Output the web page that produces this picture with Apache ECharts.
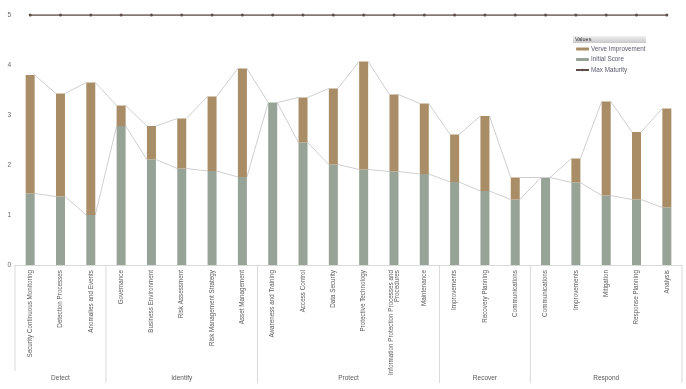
<!DOCTYPE html>
<html><head><meta charset="utf-8">
<script src="https://cdn.jsdelivr.net/npm/echarts@6/dist/echarts.min.js"></script>
<style>html,body{margin:0;padding:0;background:#fff}#c{width:686px;height:389px}</style>
</head><body><div id="c"></div>
<script>
const categories = ['Security Continuous Monitoring','Detection Processes','Anomalies and Events',
 'Governance','Business Environment','Risk Assessment','Risk Management Strategy','Asset Management',
 'Awareness and Training','Access Control','Data Security','Protective Technology','Information Protection Processes and Procedures','Maintenance',
 'Improvements','Recovery Planning','Communications',
 'Communications','Improvements','Mitigation','Response Planning','Analysis'];
const initialScore = [1.43,1.37,1.0, 2.78,2.11,1.93,1.88,1.76, 3.25,2.45,2.01,1.91,1.87,1.82, 1.66,1.48,1.31, 1.75,1.65,1.39,1.31,1.15];
const totalScore   = [3.80,3.43,3.65, 3.19,2.78,2.93,3.37,3.93, 3.25,3.35,3.53,4.07,3.41,3.23, 2.61,2.98,1.75, 1.75,2.13,3.27,2.66,3.13];
const maxMaturity  = [5,5,5,5,5,5,5,5,5,5,5,5,5,5,5,5,5,5,5,5,5,5];
const groupNames = ['Detect','Identify','Protect','Recover','Respond'];
const groupSizes = [3,5,6,3,5];

const improvement = totalScore.map((t,i)=>+(t-initialScore[i]).toFixed(2));
const BARW = 9;
const FF = 'Liberation Sans, Arial, sans-serif';
function seriesLineData(arr){ const d=[]; for(let i=0;i<arr.length-1;i++) d.push([i,arr[i],arr[i+1]]); return d; }
const groupData = []; let s=0;
groupSizes.forEach((n,k)=>{ groupData.push([s, s+n-1, k]); s+=n; });

const chart = echarts.init(document.getElementById('c'));
const connector = function(params, api){
  const i = api.value(0);
  const p1 = api.coord([i, api.value(1)]);
  const p2 = api.coord([i+1, api.value(2)]);
  return {type:'line', shape:{x1:p1[0]+BARW/2, y1:p1[1], x2:p2[0]-BARW/2, y2:p2[1]},
    style:{stroke:'#cfcfcf', lineWidth:1}};
};
chart.setOption({
  animation:false,
  textStyle:{fontFamily:FF},
  grid:{left:15,right:4,top:15,bottom:124},
  legend:{
    data:['Verve Improvement','Initial Score','Max Maturity'],
    orient:'vertical', left:575, top:46, padding:0, itemWidth:13, itemHeight:3, itemGap:4.5,
    textStyle:{fontSize:6.3, color:'#5a5b6e', padding:[0,0,0,-3]}
  },
  graphic:[
    {type:'rect', left:573, top:36, shape:{width:73, height:7},
     style:{fill:new echarts.graphic.LinearGradient(0,0,0,1,[{offset:0,color:'#f0f0f0'},{offset:1,color:'#c8c8c8'}])}},
    {type:'text', left:575, top:36.5, style:{text:'Values', fontSize:5.5, fill:'#333', fontFamily:FF}}
  ],
  xAxis:{type:'category', data:categories,
    axisLine:{lineStyle:{color:'#d9d9d9'}}, axisTick:{show:false},
    axisLabel:{rotate:90, fontSize:6.3, color:'#595959', interval:0, margin:5,
      formatter:v=> v==='Information Protection Processes and Procedures' ? 'Information Protection Processes and\nProcedures' : v}},
  yAxis:{type:'value', min:0, max:5, interval:1, splitLine:{show:false},
    axisLine:{show:false}, axisTick:{show:false},
    axisLabel:{fontSize:6.5, color:'#666', margin:4}},
  series:[
    {name:'Initial Score', type:'bar', stack:'a', data:initialScore, barWidth:BARW,
     itemStyle:{color:'#98a398'}, z:3},
    {name:'Verve Improvement', type:'bar', stack:'a', data:improvement, barWidth:BARW,
     itemStyle:{color:'#a88d66'}, z:3},
    {name:'Max Maturity', type:'line', data:maxMaturity, symbol:'circle', symbolSize:3,
     lineStyle:{color:'#5e4e48', width:1.5}, itemStyle:{color:'#5e4e48'}, z:4},
    {type:'custom', data:seriesLineData(initialScore), renderItem:connector, z:2, silent:true},
    {type:'custom', data:seriesLineData(totalScore), renderItem:connector, z:2, silent:true},
    {type:'custom', data:groupData, silent:true, z:1, clip:false,
     renderItem:function(params, api){
       const a = api.value(0), b = api.value(1), k = api.value(2);
       const bw = api.size([1,0])[0];
       const pa = api.coord([a,0]), pb = api.coord([b,0]);
       const x0 = pa[0]-bw/2, x1 = pb[0]+bw/2, y0 = pa[1];
       const els = [
         {type:'line', shape:{x1:x1, y1:y0, x2:x1, y2:y0+118}, style:{stroke:'#d9d9d9', lineWidth:1}},
         {type:'text', style:{text:groupNames[k], x:(x0+x1)/2, y:y0+113, align:'center', verticalAlign:'middle',
           fontSize:6.5, fill:'#595959', fontFamily:FF}}
       ];
       if (k===0) els.push({type:'line', shape:{x1:x0, y1:y0, x2:x0, y2:y0+106}, style:{stroke:'#d9d9d9', lineWidth:1}});
       return {type:'group', children:els};
     }}
  ]
});
</script></body></html>
